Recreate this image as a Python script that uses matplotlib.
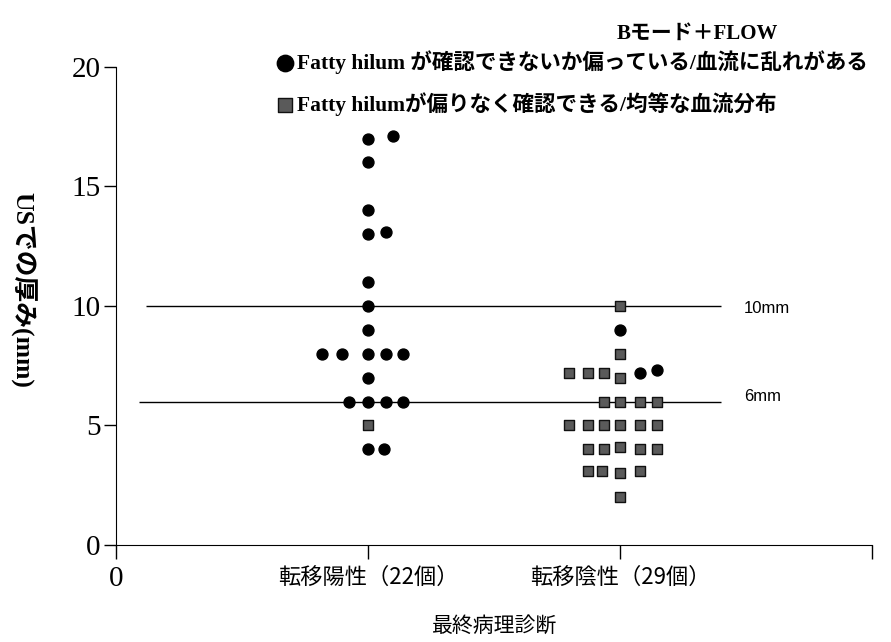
import matplotlib.pyplot as plt

plt.rcParams['font.family'] = ['Liberation Serif', 'Noto Sans CJK JP']

# 分類とデータ（USでの厚み mm）
categories = ['0', '転移陽性（22個）', '転移陰性（29個）', '']
title = 'Bモード＋FLOW'
legend_labels = ['Fatty hilum が確認できないか偏っている/血流に乱れがある',
                 'Fatty hilumが偏りなく確認できる/均等な血流分布']

# 転移陽性 (x=1)
pos_circle_values = [17, 17.1, 16, 14, 13, 13.1, 11, 10, 9,
                     8, 8, 8, 8, 8, 7, 6, 6, 6, 6, 4, 4]
pos_circle_slots = [0, 1.4, 0, 0, 0, 1, 0, 0, 0,
                    -2.6, -1.5, 0, 1, 2, 0, -1.1, 0, 1, 2, 0, 0.9]
pos_square_values = [5]
pos_square_slots = [0]

# 転移陰性 (x=2)
neg_circle_values = [9, 7.2, 7.3]
neg_circle_slots = [0, 1.1, 2.1]
neg_square_values = [10, 8,
                     7.2, 7.2, 7.2, 7.0,
                     6, 6, 6, 6,
                     5, 5, 5, 5, 5, 5,
                     4, 4, 4.1, 4, 4,
                     3.1, 3.1, 3.0, 3.1,
                     2]
neg_square_slots = [0, 0,
                    -2.9, -1.8, -0.9, 0,
                    -0.9, 0, 1.1, 2.1,
                    -2.9, -1.8, -0.9, 0, 1.1, 2.1,
                    -1.8, -0.9, 0, 1.1, 2.1,
                    -1.8, -1, 0, 1.1,
                    0]

thresholds = [10, 6]
threshold_labels = ['10mm', '6mm']

step = 0.07  # 横方向のずらし幅

fig = plt.figure(figsize=(8.91, 6.42), dpi=100)
ax = fig.add_axes([0.130, 0.151, 0.849, 0.745])

circ_x = [1 + s * step for s in pos_circle_slots] + [2 + s * step for s in neg_circle_slots]
circ_y = pos_circle_values + neg_circle_values
sq_x = [1 + s * step for s in pos_square_slots] + [2 + s * step for s in neg_square_slots]
sq_y = pos_square_values + neg_square_values

ax.scatter(circ_x, circ_y, s=62, marker='o', color='black', zorder=3,
           label=legend_labels[0])
ax.scatter(sq_x, sq_y, s=46, marker='s', facecolor='#5a5a5a', edgecolor='#111111',
           linewidths=1, zorder=3, label=legend_labels[1])

# 基準線
line_starts = [0.12, 0.09]
for th, lab, x0 in zip(thresholds, threshold_labels, line_starts):
    ax.hlines(th, x0, 2.4, color='black', lw=1, zorder=2)
    ax.text(2.49, th + (-0.1 if th == 10 else 0.2), lab, family='Liberation Sans',
            fontsize=12, va='center', ha='left')

ax.set_xlim(0, 3)
ax.set_ylim(0, 20)
ax.set_xticks(range(len(categories)))
ax.set_xticklabels(categories)
for i, lbl in enumerate(ax.get_xticklabels()):
    if i == 0:
        lbl.set_fontsize(21)
        lbl.set_family(['Liberation Serif'])
    else:
        lbl.set_fontsize(16)
        lbl.set_family(['Noto Sans CJK JP'])
ax.set_yticks([0, 5, 10, 15, 20])
ax.tick_params(axis='y', labelsize=21, length=9, width=1, pad=2)
ax.tick_params(axis='x', length=10, width=1, pad=5)
ax.spines['top'].set_visible(False)
ax.spines['right'].set_visible(False)

fig.text(0.555, 0.025, '最終病理診断', family=['Noto Sans CJK JP'],
         fontsize=15, ha='center', va='center')
fig.text(0.025, 0.548, 'USでの厚み(mm)', rotation=270, fontsize=18.5,
         ha='center', va='center', fontweight='bold')
fig.text(0.783, 0.948, title, fontsize=15, fontweight='bold', ha='center', va='center')

leg = ax.legend(loc='upper left', bbox_to_anchor=(0.298, 0.935),
                bbox_transform=fig.transFigure, frameon=False,
                handletextpad=0.05, handlelength=1.0, labelspacing=0.85,
                markerscale=1.5, prop={'size': 15.5, 'weight': 'bold'}, borderaxespad=0)

fig.savefig('out.png', dpi=100)
